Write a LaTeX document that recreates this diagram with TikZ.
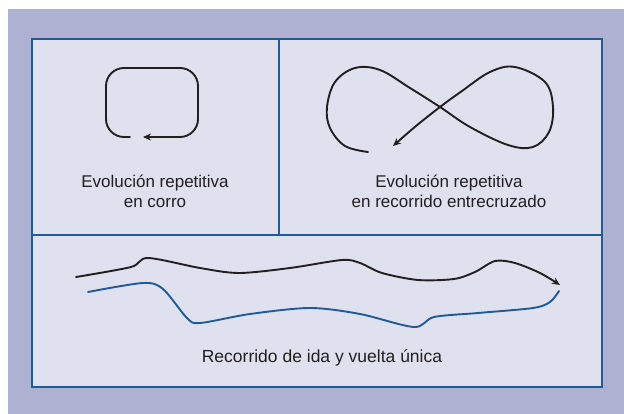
\documentclass[tikz,border=0pt]{standalone}
\usepackage{fontspec}
\setmainfont{Liberation Sans}
\usetikzlibrary{arrows.meta}
\definecolor{outerbg}{HTML}{AEB2D2}
\definecolor{innerbg}{HTML}{DFE1EE}
\definecolor{frame}{HTML}{1F5B9A}
\definecolor{ink}{HTML}{231F20}
\definecolor{bluepath}{HTML}{1F5B9A}
\tikzset{
  lbl/.style={font=\fontsize{17}{20}\selectfont, text=ink, align=center, inner sep=0pt},
  stroke/.style={line width=1.9pt, ink, line cap=round, line join=round},
  tip/.style={-{Stealth[length=8pt,width=7pt]}}
}
\begin{document}
\begin{tikzpicture}[x=1pt,y=-1pt]
\useasboundingbox (0,0) rectangle (624,414);
\fill[white] (0,0) rectangle (624,414);
\fill[outerbg] (8,9) rectangle (624,414);
\draw[frame, line width=1.6pt, fill=innerbg] (32,39) rectangle (602,387);
\draw[frame, line width=1.6pt] (32,235) -- (602,235);
\draw[frame, line width=1.6pt] (279,39) -- (279,235);
% loop
\draw[stroke, tip, rounded corners=18pt] (130,137) -- (106,137) -- (106,68) -- (198,68) -- (198,137) -- (143,137);
% infinity
\draw[stroke, tip] plot[smooth, tension=0.6] coordinates {(368,152) (345,146) (330,128) (327,107) (335,82) (355,68) (380,70) (410,88) (440,107) (470,127) (508,145) (533,147) (549,132) (553,107) (545,82) (515,67) (490,72) (462,91) (440,107) (416,126) (393,146)};
% bottom curves
\draw[stroke, tip] plot[smooth, tension=0.5] coordinates {(76,277) (131,267) (148,258) (200,268) (239,273) (290,268) (342,260) (360,263) (382,273) (418,280) (454,279) (475,272) (495,261) (515,263) (540,273) (560,285)};
\draw[stroke, bluepath] plot[smooth, tension=0.5] coordinates {(88,292) (143,283) (163,289) (187,318) (200,323) (250,314) (310,308) (360,314) (414,327) (434,317) (478,313) (533,308) (550,302) (559,291)};
% labels
\node[lbl] (a) at (155,191) {Evolución repetitiva\\en corro};
\node[lbl] (b) at (449,191) {Evolución repetitiva\\en recorrido entrecruzado};
\node[lbl, font=\fontsize{17.5}{20}\selectfont] (c) at (322,358) {Recorrido de ida y vuelta única};
\end{tikzpicture}
\end{document}
